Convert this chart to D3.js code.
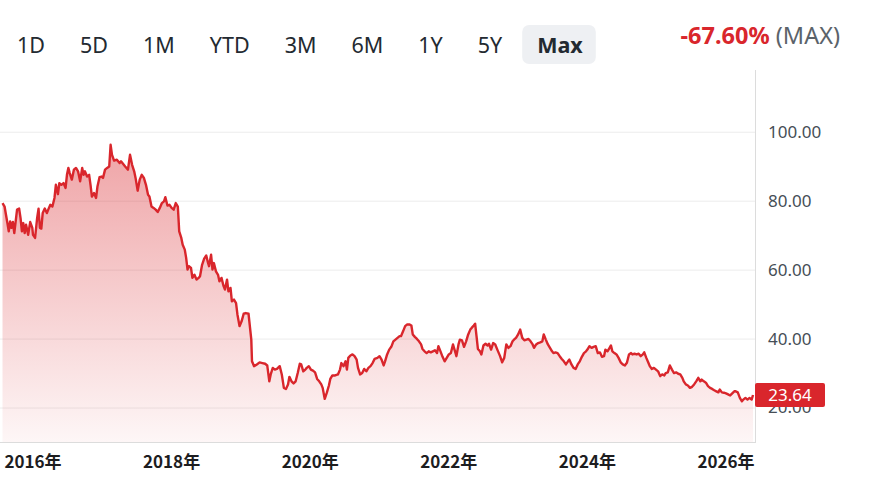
<!DOCTYPE html>
<head>
<title>Price chart (Max)</title>
<meta charset="utf-8">
<style>
body { margin: 0; background: #fff; }
svg { display: block; font-family: "Noto Sans", "Noto Sans CJK SC", sans-serif; }
.range text { font-size: 21.5px; fill: #232a31; }
.axis-y text { font-size: 17px; fill: #464e56; }
.axis-x text { font-size: 17px; fill: #1d1d1f; font-weight: bold; font-family: "Noto Sans CJK SC", sans-serif; }
.grid line { stroke: #ececec; stroke-width: 1; }
.line { fill: none; stroke: #d9262c; stroke-width: 2.4; stroke-linejoin: round; }
</style>
</head>
<body>
<svg width="869" height="481"></svg>
<script src="https://cdn.jsdelivr.net/npm/d3@7"></script>
<script>
// range buttons and the change badge
let ranges = ["1D", "5D", "1M", "YTD", "3M", "6M", "1Y", "5Y", "Max"],
    activeRange = "Max",
    changeText = "-67.60%",
    changeLabel = "(MAX)";

let yTicks = [20, 40, 60, 80, 100],
    xTicks = [2016, 2018, 2020, 2022, 2024, 2026];

// weekly-ish closes (decimal year / price)
let dates = [
  2015.56,2015.59,2015.61,2015.63,2015.65,2015.67,2015.69,2015.71,2015.73,2015.75,2015.77,2015.80,2015.82,2015.84,2015.86,2015.88,2015.90,2015.93,2015.96,2015.99,
  2016.00,2016.03,2016.06,2016.08,2016.10,2016.12,2016.14,2016.17,2016.20,2016.23,2016.25,2016.28,2016.31,2016.33,2016.36,2016.38,2016.41,2016.44,2016.47,2016.49,
  2016.51,2016.53,2016.56,2016.59,2016.62,2016.65,2016.68,2016.71,2016.73,2016.75,2016.78,2016.81,2016.83,2016.85,2016.88,2016.91,2016.93,2016.96,2016.99,
  2017.01,2017.04,2017.07,2017.10,2017.12,2017.14,2017.17,2017.21,2017.25,2017.27,
  2017.33,2017.37,2017.40,2017.43,2017.46,2017.48,2017.51,2017.54,2017.57,2017.60,2017.63,2017.66,2017.68,2017.71,2017.74,2017.77,2017.80,2017.83,2017.86,2017.89,2017.91,2017.94,2017.97,
  2018.00,2018.03,2018.06,2018.09,2018.11,2018.14,2018.16,2018.19,2018.21,2018.23,2018.25,2018.28,2018.30,2018.33,2018.36,2018.39,2018.41,2018.44,2018.47,2018.50,2018.52,2018.54,
  2018.57,2018.59,2018.61,2018.64,2018.67,2018.69,2018.72,2018.75,2018.77,2018.80,2018.82,2018.85,2018.87,2018.90,2018.93,2018.95,2018.98,2019.01,2019.04,2019.07,2019.11,
  2019.15,2019.16,2019.19,2019.23,2019.27,2019.31,2019.35,2019.38,2019.41,2019.43,2019.46,2019.49,2019.52,2019.56,2019.59,2019.62,2019.65,2019.68,2019.70,2019.73,2019.76,2019.79,
  2019.82,2019.85,2019.87,2019.90,2019.93,2019.95,2019.98,2020.01,2020.04,2020.07,2020.10,2020.13,2020.16,2020.18,2020.21,2020.24,2020.27,2020.29,2020.32,2020.36,2020.40,2020.43,
  2020.45,2020.48,2020.51,2020.53,2020.55,2020.58,2020.61,2020.64,2020.67,2020.69,2020.72,2020.75,2020.78,2020.81,2020.84,2020.87,2020.90,2020.93,
  2020.97,2021.00,2021.03,2021.06,2021.08,2021.11,2021.14,2021.17,2021.20,2021.23,2021.26,2021.29,2021.31,2021.34,2021.37,2021.40,2021.43,2021.46,2021.48,2021.51,2021.54,2021.57,
  2021.60,2021.62,2021.65,2021.68,2021.71,2021.74,2021.77,2021.80,2021.83,2021.85,2021.88,2021.91,2021.94,2021.97,2022.00,2022.03,2022.06,2022.09,2022.11,2022.14,2022.16,2022.19,
  2022.22,2022.25,2022.28,2022.31,2022.33,2022.36,2022.38,2022.40,2022.42,2022.45,2022.47,2022.50,2022.53,2022.56,2022.58,2022.61,2022.64,2022.67,2022.70,
  2022.74,2022.77,2022.80,2022.83,2022.86,2022.89,2022.92,2022.95,2022.97,2023.00,2023.03,2023.06,2023.09,2023.12,2023.15,2023.18,2023.21,2023.23,2023.26,2023.29,2023.32,2023.35,
  2023.37,2023.40,2023.43,2023.46,2023.49,2023.51,2023.54,2023.57,2023.60,2023.63,2023.66,2023.69,2023.72,2023.74,2023.77,2023.80,2023.83,2023.86,2023.89,2023.92,2023.95,2023.98,
  2024.00,2024.03,2024.06,2024.09,2024.12,2024.15,2024.18,2024.21,2024.24,2024.26,2024.29,2024.32,2024.34,2024.36,2024.39,2024.42,2024.45,
  2024.48,2024.51,2024.54,2024.57,2024.60,2024.63,2024.65,2024.68,2024.71,2024.74,2024.77,2024.80,2024.82,2024.85,2024.88,2024.90,2024.93,2024.96,2024.99,2025.02,2025.05,2025.08,
  2025.11,2025.13,2025.16,2025.19,2025.22,2025.25,2025.28,2025.31,2025.34,2025.37,2025.39,2025.42,2025.45,2025.48,2025.51,2025.54,2025.57,2025.60,2025.63,2025.65,2025.68,2025.71,
  2025.74,2025.77,2025.80,2025.83,2025.86,2025.89,2025.91,2025.94,2025.97,2026.00,2026.03,2026.06,2026.09,2026.12,2026.14,2026.17,2026.20,2026.23,2026.25,2026.28,2026.31,2026.34,
  2026.37,2026.39
];
let prices = [
  79.3,78.3,75.9,73.6,71.1,74.0,72.1,73.8,70.6,74.0,77.4,77.7,75.0,71.1,73.5,70.6,73.0,70.1,73.8,72.1,
  70.1,69.2,75.0,77.7,72.1,71.9,76.4,77.7,76.4,77.9,78.8,78.3,80.8,84.6,81.9,85.1,84.6,85.1,83.7,87.5,
  89.5,88.0,86.1,89.0,89.5,88.5,85.6,89.5,87.5,88.5,87.0,87.5,84.6,81.2,82.2,80.8,84.1,86.8,87.0,
  86.6,89.0,89.5,89.9,96.2,93.3,91.6,91.9,90.9,91.4,
  89.9,89.0,93.3,90.4,88.5,86.6,82.9,86.1,87.5,86.6,84.6,81.7,81.2,78.3,77.9,77.4,76.7,77.9,79.3,79.8,81.0,78.6,78.8,
  77.9,77.4,79.3,78.3,71.1,69.2,67.2,65.8,63.4,60.0,61.0,60.5,57.6,58.5,57.1,57.6,58.1,61.4,63.2,64.1,62.4,61.0,
  64.3,60.0,61.9,59.5,58.5,56.6,57.6,55.2,54.2,57.1,53.7,54.7,50.8,51.3,50.3,47.0,43.6,45.0,47.2,47.4,47.2,
  39.7,33.4,32.0,32.5,33.1,32.9,32.7,32.2,27.6,29.6,31.5,31.0,31.2,32.0,29.6,25.7,25.4,26.7,28.9,27.6,27.0,27.6,
  30.0,32.7,32.5,30.5,31.0,31.5,32.0,31.0,30.7,30.2,28.3,27.6,26.7,25.7,22.5,24.3,26.4,28.3,29.3,29.3,29.6,31.0,
  32.9,32.0,33.4,31.0,34.4,35.1,35.4,34.9,33.9,31.5,29.6,30.0,31.2,30.5,31.5,32.0,32.9,34.1,
  34.4,34.9,33.9,32.2,33.4,35.4,36.8,37.6,39.2,39.7,40.2,40.7,40.7,42.1,43.6,44.1,44.1,43.8,41.2,40.5,39.9,39.2,
  38.3,37.0,36.3,35.8,36.3,36.0,36.3,36.6,35.8,37.8,36.3,34.7,33.4,34.4,35.4,35.8,38.3,36.3,34.9,38.3,39.7,39.5,
  37.6,39.2,41.2,42.6,43.1,43.8,44.3,40.7,37.0,36.3,35.4,38.0,38.5,38.0,38.5,36.8,38.7,38.3,36.8,
  34.9,33.1,34.4,38.3,37.3,37.8,39.2,39.9,40.2,41.2,42.6,40.2,39.5,39.7,39.9,39.2,38.3,37.3,38.3,38.7,38.9,39.2,
  41.2,39.7,38.3,37.3,36.3,35.8,36.0,35.8,34.9,34.1,33.4,32.5,33.4,33.9,32.5,31.5,31.2,32.5,33.4,34.7,35.8,36.3,
  36.8,37.8,37.3,37.6,37.8,35.8,36.0,34.7,34.9,36.8,36.3,37.3,38.0,36.3,35.8,35.4,34.4,
  33.1,32.5,32.2,33.0,35.4,35.8,35.4,35.6,35.4,35.6,34.9,35.4,36.0,34.4,33.0,32.0,31.2,31.5,31.0,30.5,29.1,29.6,
  29.3,30.0,30.2,32.2,31.0,30.0,30.2,29.8,29.6,28.6,27.6,26.7,26.4,25.7,26.0,26.7,27.6,28.6,27.6,28.1,27.6,27.2,
  26.2,25.7,25.4,25.0,24.7,24.4,25.2,24.4,24.3,24.1,23.8,23.5,24.1,24.7,24.7,24.4,22.8,21.8,22.3,22.8,22.3,22.8,
  22.3,23.64
];
if (dates.length !== prices.length) console.warn("dates/prices length mismatch", dates.length, prices.length);

let data = dates.map((d, i) => ({date: d, price: prices[i]}));
let last = data[data.length - 1];

let svg = d3.select("svg"),
    plotRight = 755,
    plotTop = 70;

let x = d3.scaleLinear()
    .domain([2016, 2026])
    .range([33, 726]);
let y = d3.scaleLinear()
    .domain([10, 115])
    .range([442, 80]);

// gradient for the area under the line
let grad = svg.append("defs").append("linearGradient")
    .attr("id", "fade")
    .attr("gradientUnits", "userSpaceOnUse")
    .attr("x1", 0).attr("x2", 0)
    .attr("y1", y(d3.max(prices))).attr("y2", y(10));
grad.append("stop").attr("offset", 0).attr("stop-color", "#d9262c").attr("stop-opacity", 0.42);
grad.append("stop").attr("offset", 1).attr("stop-color", "#d9262c").attr("stop-opacity", 0.04);

// horizontal grid
svg.append("g")
    .attr("class", "grid")
  .selectAll("line")
  .data(yTicks)
  .join("line")
    .attr("x1", 0).attr("x2", plotRight)
    .attr("y1", d => y(d) + 0.5).attr("y2", d => y(d) + 0.5);

let area = d3.area()
    .x(d => x(d.date))
    .y0(y(10))
    .y1(d => y(d.price));
let line = d3.line()
    .x(d => x(d.date))
    .y(d => y(d.price));

svg.append("path")
    .datum(data)
    .attr("fill", "url(#fade)")
    .attr("d", area);

svg.append("path")
    .datum(data)
    .attr("class", "line")
    .attr("d", line);

// frame: bottom and right edges
svg.append("line")
    .attr("x1", 0).attr("x2", plotRight)
    .attr("y1", y(10) + 0.5).attr("y2", y(10) + 0.5)
    .attr("stroke", "#dcdcdc");
svg.append("line")
    .attr("x1", plotRight + 0.5).attr("x2", plotRight + 0.5)
    .attr("y1", plotTop).attr("y2", y(10) + 1)
    .attr("stroke", "#dcdcdc");

// y axis labels on the right
svg.append("g")
    .attr("class", "axis-y")
  .selectAll("text")
  .data(yTicks)
  .join("text")
    .attr("x", 768)
    .attr("y", d => y(d))
    .attr("dy", "0.35em")
    .text(d3.format(".2f"));

// current price badge
let badge = svg.append("g")
    .attr("transform", "translate(" + plotRight + "," + y(last.price) + ")");
badge.append("rect")
    .attr("x", 0).attr("y", -12)
    .attr("width", 70).attr("height", 24)
    .attr("rx", 2)
    .attr("fill", "#d9262c");
badge.append("text")
    .attr("x", 35).attr("dy", "0.35em")
    .attr("text-anchor", "middle")
    .attr("fill", "#fff")
    .attr("font-size", "17px")
    .text(d3.format(".2f")(last.price));

// x axis labels
svg.append("g")
    .attr("class", "axis-x")
  .selectAll("text")
  .data(xTicks)
  .join("text")
    .attr("x", d => x(d))
    .attr("y", 462)
    .attr("dy", "0.35em")
    .attr("text-anchor", "middle")
    .text(d => d + "年");

// range selector row
let rangeG = svg.append("g").attr("class", "range");
let cursor = 17;
ranges.forEach(r => {
  let isActive = r === activeRange;
  let bg = isActive ? rangeG.append("rect") : null;
  let t = rangeG.append("text")
      .attr("x", cursor)
      .attr("y", 45)
      .attr("dy", "0.35em")
      .attr("font-weight", isActive ? "bold" : null)
      .text(r);
  let w = t.node().getComputedTextLength();
  if (bg) {
    bg.attr("x", cursor - 15).attr("y", 25)
      .attr("width", w + 28).attr("height", 39)
      .attr("rx", 7)
      .attr("fill", "#eef0f3");
  }
  cursor += w + 35;
});

let change = svg.append("text")
    .attr("x", 840)
    .attr("y", 36)
    .attr("dy", "0.35em")
    .attr("text-anchor", "end")
    .attr("font-size", "23.5px");
change.append("tspan")
    .attr("fill", "#d9262c")
    .attr("font-weight", "bold")
    .text(changeText + " ");
change.append("tspan")
    .attr("fill", "#5b636a")
    .text(changeLabel);
</script>
</body>
